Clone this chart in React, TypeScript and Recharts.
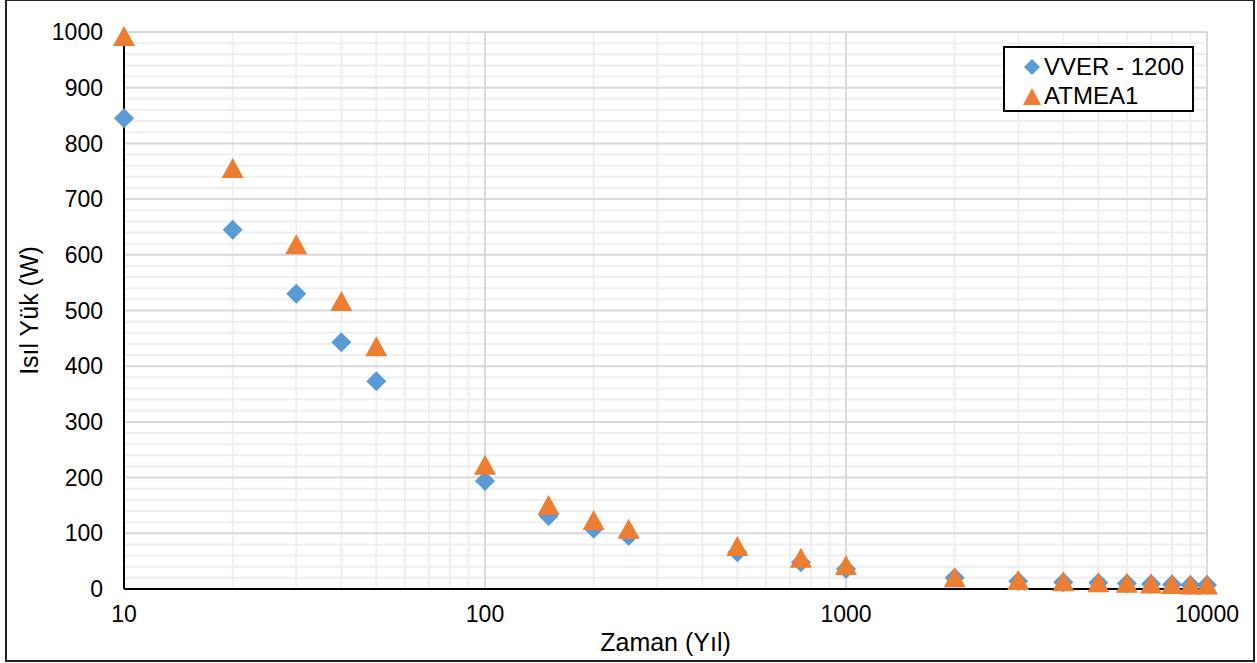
import { ScatterChart, Scatter, XAxis, YAxis, ReferenceLine } from "recharts";

const years = [10, 20, 30, 40, 50, 100, 150, 200, 250, 500, 750, 1000, 2000, 3000, 4000, 5000, 6000, 7000, 8000, 9000, 10000];
const vverLoad = [845, 645, 530, 443, 373, 194, 131, 108, 95, 66, 48, 36, 20, 14, 12, 11, 10, 9, 8, 7, 7];
const atmeaLoad = [993, 756, 619, 517, 436, 223, 151, 124, 108, 77, 56, 43, 21, 16, 14, 12, 11, 10, 9, 8, 8];

const xTicks = [10, 100, 1000, 10000];
const yTicks = [0, 100, 200, 300, 400, 500, 600, 700, 800, 900, 1000];
const xMinor = [20, 30, 40, 50, 60, 70, 80, 90, 200, 300, 400, 500, 600, 700, 800, 900, 2000, 3000, 4000, 5000, 6000, 7000, 8000, 9000];
const xMajor = [100, 1000, 10000];
const yMinor = Array.from({ length: 50 }, (_, i) => i * 20).filter((v) => v % 100 !== 0);
const yMajor = [100, 200, 300, 400, 500, 600, 700, 800, 900, 1000];

const vverData = years.map((x, i) => ({ x, y: vverLoad[i] }));
const atmeaData = years.map((x, i) => ({ x, y: atmeaLoad[i] }));

const BLUE = "#5b9bd5";
const ORANGE = "#ed7d31";
const FONT = "'Liberation Sans', Arial, sans-serif";

function Diamond(props: any) {
  const { cx, cy } = props;
  const r = 10;
  return <polygon points={`${cx},${cy - r} ${cx + r},${cy} ${cx},${cy + r} ${cx - r},${cy}`} fill={BLUE} />;
}

function Triangle(props: any) {
  const { cx, cy } = props;
  const h = 10;
  return <polygon points={`${cx},${cy - h} ${cx + 11},${cy + h} ${cx - 11},${cy + h}`} fill={ORANGE} />;
}

function YTitle(props: any) {
  const vb = props.viewBox || {};
  const cy = vb.y + vb.height / 2;
  return (
    <text
      x={29}
      y={cy}
      transform={`rotate(-90 29 ${cy})`}
      textAnchor="middle"
      dominantBaseline="central"
      fill="#000"
      fontSize={25}
      fontFamily={FONT}
    >
      Isıl Yük (W)
    </text>
  );
}

function XTitle(props: any) {
  const vb = props.viewBox || {};
  const cx = vb.x + vb.width / 2;
  return (
    <text x={cx} y={642} textAnchor="middle" dominantBaseline="central" fill="#000" fontSize={25} fontFamily={FONT}>
      Zaman (Yıl)
    </text>
  );
}

function LegendBox() {
  return (
    <div
      style={{
        position: "absolute",
        left: 1003,
        top: 46,
        width: 191,
        height: 66,
        border: "2px solid #000",
        boxSizing: "border-box",
        background: "#fff",
        fontFamily: FONT,
        fontSize: 24,
        color: "#000",
      }}
    >
      <div style={{ position: "absolute", left: 17, top: 5, display: "flex", alignItems: "center", height: 28 }}>
        <svg width={20} height={20}>
          <polygon points="10,2 18,10 10,18 2,10" fill={BLUE} />
        </svg>
        <span style={{ marginLeft: 2 }}>VVER - 1200</span>
      </div>
      <div style={{ position: "absolute", left: 17, top: 34, display: "flex", alignItems: "center", height: 28 }}>
        <svg width={20} height={20}>
          <polygon points="10,2 19,19 1,19" fill={ORANGE} />
        </svg>
        <span style={{ marginLeft: 2 }}>ATMEA1</span>
      </div>
    </div>
  );
}

export default function App() {
  return (
    <div style={{ position: "absolute", left: 0, top: 0, width: 1257, height: 663, background: "#fff" }}>
      <div
        style={{
          position: "absolute",
          left: 5,
          top: 0,
          width: 1250,
          height: 662,
          border: "2px solid #222",
          borderTopWidth: 1,
          boxSizing: "border-box",
        }}
      />
      <ScatterChart width={1257} height={663} margin={{ top: 32, right: 50, bottom: 0, left: 0 }}>
        {xMinor.map((v) => (
          <ReferenceLine key={`xm${v}`} x={v} stroke="#efefef" strokeWidth={2} />
        ))}
        {yMinor.map((v) => (
          <ReferenceLine key={`ym${v}`} y={v} stroke="#efefef" strokeWidth={2} />
        ))}
        {xMajor.map((v) => (
          <ReferenceLine key={`xM${v}`} x={v} stroke="#d9d9d9" strokeWidth={2} />
        ))}
        {yMajor.map((v) => (
          <ReferenceLine key={`yM${v}`} y={v} stroke="#d9d9d9" strokeWidth={2} />
        ))}
        <XAxis
          type="number"
          dataKey="x"
          scale="log"
          domain={[10, 10000]}
          ticks={xTicks}
          height={74}
          axisLine={{ stroke: "#000", strokeWidth: 2 }}
          tickLine={false}
          tickSize={0}
          tickMargin={17}
          tick={{ fill: "#000", fontSize: 23, fontFamily: FONT }}
          label={<XTitle />}
        />
        <YAxis
          type="number"
          dataKey="y"
          domain={[0, 1000]}
          ticks={yTicks}
          width={124}
          axisLine={{ stroke: "#000", strokeWidth: 2 }}
          tickLine={false}
          tickSize={0}
          tickMargin={21}
          tick={{ fill: "#000", fontSize: 23, fontFamily: FONT }}
          label={<YTitle />}
        />
        <Scatter name="VVER - 1200" data={vverData} shape={<Diamond />} isAnimationActive={false} />
        <Scatter name="ATMEA1" data={atmeaData} shape={<Triangle />} isAnimationActive={false} />
      </ScatterChart>
      <LegendBox />
    </div>
  );
}
